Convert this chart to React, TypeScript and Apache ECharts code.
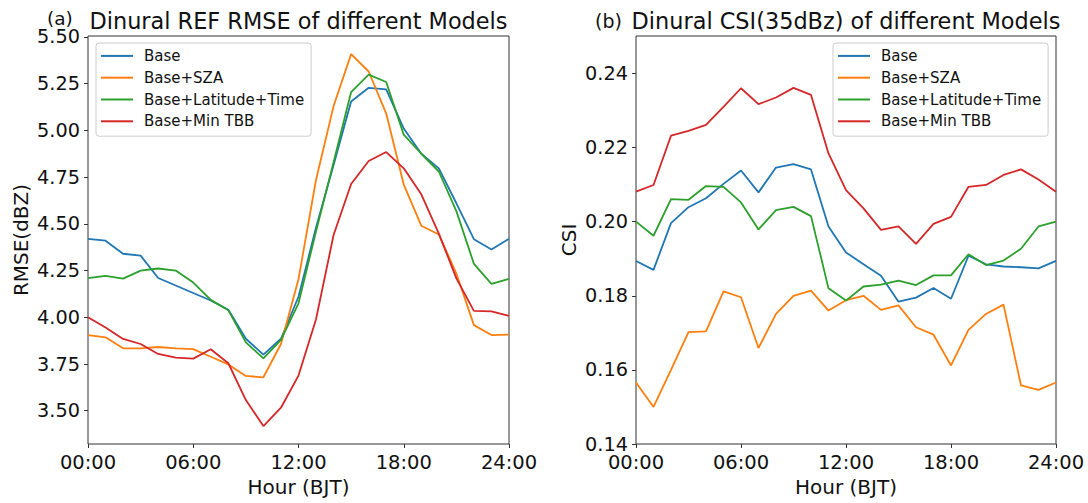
import React, { useEffect, useRef } from "react";
import * as echarts from "echarts";

const HOURS = [0, 1, 2, 3, 4, 5, 6, 7, 8, 9, 10, 11, 12, 13, 14, 15, 16, 17, 18, 19, 20, 21, 22, 23, 24];
const HOUR_TICKS = [0, 6, 12, 18, 24];
const HOUR_LABELS = ["00:00", "06:00", "12:00", "18:00", "24:00"];
const SERIES_NAMES = ["Base", "Base+SZA", "Base+Latitude+Time", "Base+Min TBB"];
const COLORS = ["#1f77b4", "#ff7f0e", "#2ca02c", "#d62728"];

const RMSE_BASE = [4.42, 4.41, 4.34, 4.33, 4.21, 4.17, 4.13, 4.09, 4.04, 3.885, 3.8, 3.885, 4.11, 4.48, 4.815, 5.155, 5.228, 5.219, 5.01, 4.875, 4.797, 4.61, 4.418, 4.363, 4.42];
const RMSE_SZA = [3.905, 3.893, 3.834, 3.834, 3.841, 3.834, 3.83, 3.789, 3.748, 3.686, 3.679, 3.857, 4.204, 4.736, 5.13, 5.408, 5.315, 5.09, 4.71, 4.49, 4.443, 4.234, 3.958, 3.905, 3.907];
const RMSE_LAT = [4.209, 4.221, 4.207, 4.25, 4.261, 4.25, 4.186, 4.093, 4.038, 3.866, 3.78, 3.879, 4.075, 4.46, 4.83, 5.205, 5.298, 5.259, 4.977, 4.875, 4.78, 4.568, 4.286, 4.179, 4.205];
const RMSE_TBB = [4.0, 3.945, 3.884, 3.857, 3.804, 3.784, 3.779, 3.829, 3.754, 3.557, 3.418, 3.516, 3.688, 3.99, 4.44, 4.713, 4.836, 4.884, 4.797, 4.658, 4.448, 4.208, 4.034, 4.032, 4.007];
const RMSE_TICKS = [3.5, 3.75, 4.0, 4.25, 4.5, 4.75, 5.0, 5.25, 5.5];

const CSI_BASE = [0.1894, 0.187, 0.1996, 0.2039, 0.2063, 0.2102, 0.2138, 0.2079, 0.2146, 0.2155, 0.2141, 0.1987, 0.1917, 0.1885, 0.1854, 0.1784, 0.1795, 0.1821, 0.1792, 0.1908, 0.1885, 0.1879, 0.1877, 0.1874, 0.1894];
const CSI_SZA = [0.1566, 0.15, 0.16, 0.1702, 0.1704, 0.1812, 0.1796, 0.1659, 0.1751, 0.18, 0.1814, 0.176, 0.1788, 0.18, 0.1762, 0.1774, 0.1715, 0.1695, 0.1612, 0.1708, 0.1751, 0.1776, 0.1558, 0.1546, 0.1566];
const CSI_LAT = [0.2, 0.1962, 0.2061, 0.2059, 0.2096, 0.2094, 0.2052, 0.1979, 0.2031, 0.204, 0.2015, 0.182, 0.1787, 0.1825, 0.183, 0.1841, 0.1829, 0.1855, 0.1855, 0.1912, 0.1883, 0.1895, 0.1927, 0.1987, 0.2];
const CSI_TBB = [0.2081, 0.2099, 0.2232, 0.2245, 0.2261, 0.231, 0.236, 0.2317, 0.2335, 0.2361, 0.2342, 0.2184, 0.2085, 0.2036, 0.1978, 0.1987, 0.194, 0.1994, 0.2013, 0.2094, 0.2099, 0.2126, 0.2141, 0.2114, 0.2081];
const CSI_TICKS = [0.14, 0.16, 0.18, 0.2, 0.22, 0.24];

const FONT = "DejaVu Sans";
const INK = "#111111";
const FRAME = "#333333";

export default function App() {
  const ref = useRef<HTMLDivElement>(null);

  useEffect(() => {
    if (!ref.current) return;
    const chart = echarts.init(ref.current, null, { renderer: "svg" });

    const rmse = [RMSE_BASE, RMSE_SZA, RMSE_LAT, RMSE_TBB];
    const csi = [CSI_BASE, CSI_SZA, CSI_LAT, CSI_TBB];

    const mkX = (gridIndex: number) => ({
      type: "value",
      gridIndex,
      min: 0,
      max: 24,
      interval: 6,
      axisLine: { show: false },
      axisTick: { show: true, length: 4, lineStyle: { color: FRAME, width: 1 }, customValues: HOUR_TICKS },
      axisLabel: {
        show: true,
        margin: 11,
        fontFamily: FONT,
        fontSize: 19.5,
        lineHeight: 15,
        color: INK,
        customValues: HOUR_TICKS,
        formatter: (v: number) => HOUR_LABELS[HOUR_TICKS.indexOf(Math.round(v))] ?? "",
      },
      splitLine: { show: false },
      name: "Hour (BJT)",
      nameLocation: "middle",
      nameGap: 33,
      nameTextStyle: { fontFamily: FONT, fontSize: 20, color: INK },
    });

    const mkY = (gridIndex: number, min: number, max: number, ticks: number[], name: string) => ({
      type: "value",
      gridIndex,
      min,
      max,
      axisLine: { show: false },
      axisTick: { show: true, length: 4, lineStyle: { color: FRAME, width: 1 }, customValues: ticks },
      axisLabel: {
        show: true,
        margin: 8,
        fontFamily: FONT,
        fontSize: 19.3,
        lineHeight: 15,
        color: INK,
        customValues: ticks,
        formatter: (v: number) => v.toFixed(2),
      },
      splitLine: { show: false },
      name,
      nameLocation: "middle",
      nameRotate: 90,
      nameGap: 57,
      nameTextStyle: { fontFamily: FONT, fontSize: 20, color: INK },
    });

    const series: any[] = [];
    SERIES_NAMES.forEach((name, i) => {
      series.push({
        type: "line",
        name,
        xAxisIndex: 0,
        yAxisIndex: 0,
        data: HOURS.map((h, k) => [h, rmse[i][k]]),
        showSymbol: false,
        symbol: "none",
        lineStyle: { color: COLORS[i], width: 1.8 },
        itemStyle: { color: COLORS[i] },
        color: COLORS[i],
      });
    });
    SERIES_NAMES.forEach((name, i) => {
      series.push({
        type: "line",
        name,
        xAxisIndex: 1,
        yAxisIndex: 1,
        data: HOURS.map((h, k) => [h, csi[i][k]]),
        showSymbol: false,
        symbol: "none",
        lineStyle: { color: COLORS[i], width: 1.8 },
        itemStyle: { color: COLORS[i] },
        color: COLORS[i],
      });
    });

    const mkLegend = (left: number) => ({
      left,
      top: 43,
      orient: "vertical",
      data: SERIES_NAMES.map((n) => ({ name: n })),
      icon: "rect",
      itemWidth: 32,
      itemHeight: 2,
      itemGap: 0,
      padding: [2, 7, 4, 5],
      backgroundColor: "rgba(255,255,255,0.8)",
      borderColor: "#cccccc",
      borderWidth: 1,
      borderRadius: 3,
      selectedMode: false,
      textStyle: { fontFamily: FONT, fontSize: 15, color: INK, lineHeight: 21.8, padding: [0, 0, 0, 6] },
    });

    chart.setOption({
      animation: false,
      backgroundColor: "#ffffff",
      textStyle: { fontFamily: FONT },
      grid: [
        { left: 88, right: 579, top: 36, bottom: 59, show: true, borderColor: FRAME, borderWidth: 1, backgroundColor: "transparent" },
        { left: 636, right: 32, top: 36, bottom: 59, show: true, borderColor: FRAME, borderWidth: 1, backgroundColor: "transparent" },
      ],
      xAxis: [mkX(0), mkX(1)],
      yAxis: [
        mkY(0, 3.322, 5.505, RMSE_TICKS, "RMSE(dBZ)"),
        mkY(1, 0.14, 0.2501, CSI_TICKS, "CSI"),
      ],
      legend: [mkLegend(96), mkLegend(833)],
      series,
      graphic: [
        {
          type: "text",
          x: 47,
          y: 18,
          style: { text: "(a)", fontFamily: FONT, fontSize: 18.5, lineHeight: 16, fill: INK, align: "left", verticalAlign: "middle" },
        },
        {
          type: "text",
          x: 298.5,
          y: 20.5,
          style: { text: "Dinural REF RMSE of different Models", fontFamily: FONT, fontSize: 22.4, fill: INK, align: "center", verticalAlign: "middle" },
        },
        {
          type: "text",
          x: 595,
          y: 20.5,
          style: { text: "(b)", fontFamily: FONT, fontSize: 19, lineHeight: 17, fill: INK, align: "left", verticalAlign: "middle" },
        },
        {
          type: "text",
          x: 846,
          y: 20.5,
          style: { text: "Dinural CSI(35dBz) of different Models", fontFamily: FONT, fontSize: 22.4, fill: INK, align: "center", verticalAlign: "middle" },
        },
      ],
    });

    return () => chart.dispose();
  }, []);

  return <div ref={ref} style={{ position: "absolute", left: 0, top: 0, width: 1088, height: 503 }} />;
}
